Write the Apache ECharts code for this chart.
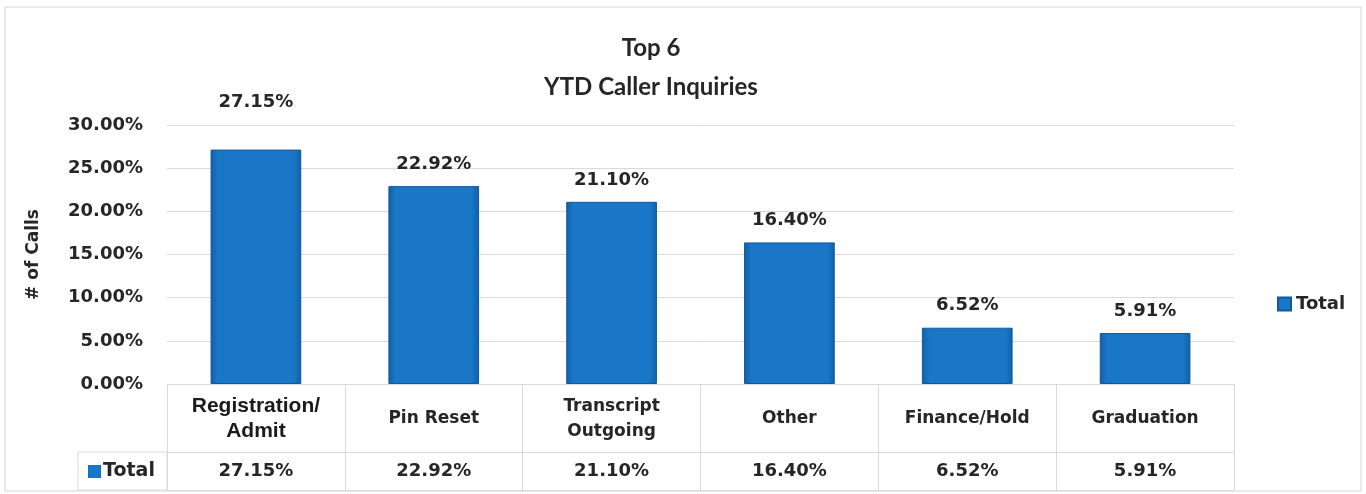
<!DOCTYPE html>
<html>
<head>
<meta charset="utf-8">
<script src="https://cdn.jsdelivr.net/npm/echarts@6/dist/echarts.min.js"></script>
<style>
  html, body { margin: 0; padding: 0; background: #fff; }
  #chart { width: 1366px; height: 494px; }
</style>
</head>
<body>
<div id="chart"></div>
<script>
// chart data
const categories = ['Registration/\nAdmit', 'Pin Reset', 'Transcript\nOutgoing', 'Other', 'Finance/Hold', 'Graduation'];
const totals = [27.15, 22.92, 21.10, 16.40, 6.52, 5.91];
const seriesName = 'Total';
const yTicks = [0, 5, 10, 15, 20, 25, 30];

const pct = v => v.toFixed(2) + '%';
const font = 'DejaVu Sans';
const ink = '#262626';
const lineColor = '#d9d9d9';
const barColor = new echarts.graphic.LinearGradient(0, 0, 1, 0, [
  { offset: 0, color: '#125fa6' },
  { offset: 0.08, color: '#1a77c7' },
  { offset: 0.92, color: '#1a77c7' },
  { offset: 1, color: '#125fa6' },
]);

const chart = echarts.init(document.getElementById('chart'));

const catItems = categories.map((name, i) => i === 0
  ? {
      value: name,
      textStyle: {
        fontFamily: 'Liberation Sans',
        fontWeight: 'bold',
        fontSize: 21,
        lineHeight: 25,
        verticalAlign: 'middle',
        color: '#1a1a1a',
      },
    }
  : { value: name });

const barData = totals.map((v, i) => i === 0
  ? { value: v, label: { distance: 38 } }
  : v);

chart.setOption({
  animation: false,
  title: {
    text: 'Top 6\nYTD Caller Inquiries',
    left: 646,
    top: 24,
    textAlign: 'center',
    textStyle: {
      fontFamily: 'Lato',
      fontWeight: 'bold',
      fontSize: 24,
      lineHeight: 39,
      color: ink,
    },
  },
  legend: {
    data: [seriesName],
    left: 1272,
    top: 290,
    icon: 'rect',
    itemWidth: 13,
    itemHeight: 13,
    itemGap: 4,
    textStyle: { fontFamily: font, fontWeight: 'bold', fontSize: 18, color: ink },
  },
  grid: { left: 167, right: 132, top: 125, bottom: 110, containLabel: false },
  xAxis: [
    {
      type: 'category',
      data: catItems,
      position: 'bottom',
      axisLine: { lineStyle: { color: lineColor } },
      axisTick: { show: true, length: 106, interval: 0, lineStyle: { color: lineColor } },
      axisLabel: {
        interval: 0,
        margin: 35,
        verticalAlign: 'middle',
        fontFamily: font,
        fontWeight: 'bold',
        fontSize: 17,
        lineHeight: 25,
        color: ink,
      },
    },
    {
      type: 'category',
      data: categories,
      position: 'bottom',
      offset: 68,
      axisLine: { show: true, lineStyle: { color: lineColor } },
      axisTick: { show: false },
      axisLabel: {
        interval: 0,
        margin: 19,
        verticalAlign: 'middle',
        formatter: (v, i) => pct(totals[i]),
        fontFamily: font,
        fontWeight: 'bold',
        fontSize: 18,
        color: ink,
      },
    },
    {
      type: 'category',
      data: categories,
      position: 'bottom',
      offset: 106,
      axisLine: { show: true, lineStyle: { color: lineColor } },
      axisTick: { show: false },
      axisLabel: { show: false },
    },
  ],
  yAxis: {
    type: 'value',
    min: yTicks[0],
    max: yTicks[yTicks.length - 1],
    interval: yTicks[1] - yTicks[0],
    name: '# of Calls',
    nameLocation: 'middle',
    nameRotate: 90,
    nameGap: 125,
    nameTextStyle: { fontFamily: font, fontWeight: 'bold', fontSize: 17, color: ink },
    axisLine: { show: false },
    axisTick: { show: false },
    axisLabel: {
      margin: 24,
      formatter: v => pct(v),
      fontFamily: font,
      fontWeight: 'bold',
      fontSize: 18,
      color: ink,
    },
    splitLine: { lineStyle: { color: lineColor } },
  },
  graphic: [
    {
      type: 'rect',
      shape: { x: 5, y: 7, width: 1356, height: 484 },
      style: { fill: 'none', stroke: '#d4d4d4', lineWidth: 1 },
      silent: true,
    },
    {
      type: 'rect',
      shape: { x: 78, y: 452, width: 89, height: 38 },
      style: { fill: 'none', stroke: lineColor, lineWidth: 1 },
      silent: true,
    },
    {
      type: 'rect',
      shape: { x: 88, y: 465, width: 13, height: 13 },
      style: { fill: barColor },
      silent: true,
    },
    {
      type: 'text',
      x: 103,
      y: 471,
      style: {
        text: seriesName,
        fontFamily: font,
        fontWeight: 'bold',
        fontSize: 19,
        fill: ink,
        verticalAlign: 'middle',
      },
      silent: true,
    },
  ],
  series: [
    {
      name: seriesName,
      type: 'bar',
      data: barData,
      barWidth: '51%',
      itemStyle: { color: barColor, borderColor: '#0f5a9e', borderWidth: 1 },
      label: {
        show: true,
        position: 'top',
        distance: 13,
        formatter: ({ value }) => pct(value),
        fontFamily: font,
        fontWeight: 'bold',
        fontSize: 18,
        color: ink,
      },
    },
  ],
});
</script>
</body>
</html>
